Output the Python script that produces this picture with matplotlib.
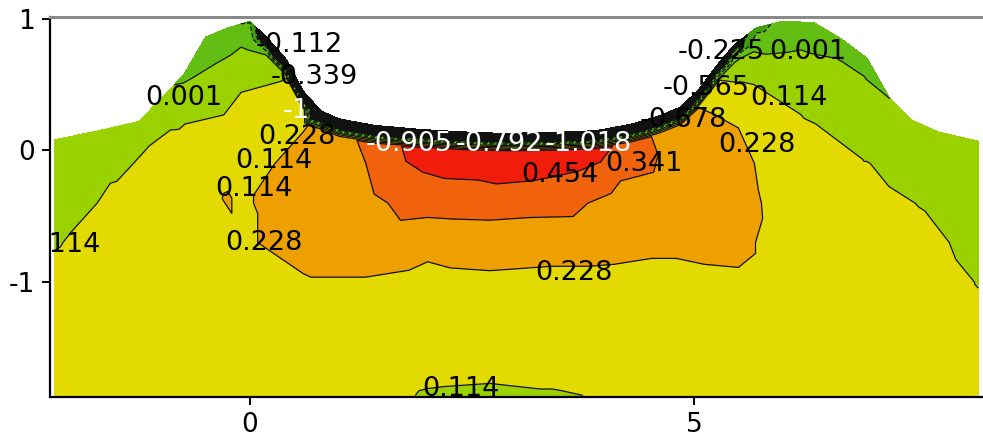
import numpy as np
import matplotlib
matplotlib.use("Agg")
import matplotlib.pyplot as plt
import matplotlib.tri as mtri
from matplotlib.colors import ListedColormap, BoundaryNorm

plt.rcParams['font.family'] = ['DejaVu Sans']
plt.rcParams['axes.unicode_minus'] = False

# ---------------- data ----------------
levels = [-1.131, -1.018, -0.905, -0.792, -0.678, -0.565, -0.452, -0.339,
          -0.225, -0.112, 0.001, 0.114, 0.228, 0.341, 0.454, 0.567]

# ground surface (upper edge of the field)
surf_x = [-2.2, -1.7, -1.25, -0.95, -0.75, -0.5, -0.25, 0.0, 0.2, 0.4, 0.6, 0.8,
          1.0, 1.4, 1.9, 2.4, 2.9, 3.4, 3.9, 4.3, 4.6, 4.85, 5.05, 5.25, 5.45,
          5.7, 6.0, 6.35, 6.65, 6.95, 7.2, 7.45, 7.75, 8.2]
surf_y = [0.08, 0.15, 0.22, 0.43, 0.57, 0.86, 0.93, 0.98, 0.85, 0.70, 0.45, 0.30,
          0.24, 0.19, 0.16, 0.14, 0.13, 0.135, 0.15, 0.20, 0.26, 0.33, 0.46, 0.64,
          0.80, 0.93, 0.98, 0.97, 0.85, 0.70, 0.40, 0.23, 0.14, 0.07]
# value on the surface
surf_val = [0.06, 0.05, 0.045, 0.02, -0.02, -0.08, -0.10, -0.12, -0.5, -0.9, -1.05, -1.1,
            -1.1, -1.1, -1.1, -1.1, -1.1, -1.1, -1.1, -1.1, -1.0, -0.95, -0.8, -0.6,
            -0.35, -0.15, -0.08, -0.06, -0.05, -0.03, 0.0, 0.03, 0.05, 0.06]
# value just under the surface layer
sub_depth = 0.14
sub_val = [0.065, 0.095, 0.105, 0.10, 0.03, -0.04, -0.03, -0.03, 0.005, 0.11, 0.2, 0.25,
           0.30, 0.38, 0.50, 0.52, 0.54, 0.52, 0.50, 0.40, 0.32, 0.28, 0.23, 0.14,
           0.01, -0.02, -0.03, -0.03, -0.005, -0.005, 0.03, 0.07, 0.07, 0.06]

# interior values (rows = grid_y, columns = grid_x); nan = above ground / in surface layer
grid_x = [-2.2, -1.5, -0.8, -0.1, 0.6, 1.3, 2.0, 2.7, 3.4, 4.1, 4.8, 5.5, 6.2, 6.9, 7.6, 8.2]
grid_y = [-1.86, -1.6, -1.3, -1.0, -0.7, -0.4, -0.1, 0.2, 0.5, 0.8]
nan = np.nan
grid_cols = [
    [0.15, 0.15, 0.14, 0.13, 0.11, 0.09, 0.07, nan, nan, nan],            # -2.2
    [0.16, 0.16, 0.16, 0.15, 0.14, 0.125, 0.105, nan, nan, nan],          # -1.5
    [0.17, 0.17, 0.17, 0.17, 0.17, 0.16, 0.14, 0.11, nan, nan],           # -0.8
    [0.16, 0.17, 0.18, 0.20, 0.22, 0.22, 0.19, 0.15, 0.105, -0.005],      # -0.1
    [0.17, 0.18, 0.20, 0.222, 0.25, 0.26, 0.26, 0.22, nan, nan],          # 0.6
    [0.15, 0.17, 0.20, 0.222, 0.27, 0.31, 0.34, nan, nan, nan],           # 1.3
    [0.105, 0.15, 0.19, 0.21, 0.245, 0.396, nan, nan, nan, nan],          # 2.0
    [0.10, 0.14, 0.18, 0.215, 0.26, 0.403, nan, nan, nan, nan],           # 2.7
    [0.108, 0.14, 0.18, 0.21, 0.255, 0.388, nan, nan, nan, nan],          # 3.4
    [0.12, 0.15, 0.18, 0.21, 0.25, 0.307, nan, nan, nan, nan],            # 4.1
    [0.13, 0.15, 0.18, 0.21, 0.24, 0.28, 0.30, nan, nan, nan],            # 4.8
    [0.14, 0.16, 0.18, 0.215, 0.25, 0.265, 0.255, 0.225, 0.125, nan],     # 5.5
    [0.14, 0.15, 0.16, 0.17, 0.17, 0.165, 0.15, 0.125, 0.08, -0.01],      # 6.2
    [0.14, 0.15, 0.155, 0.155, 0.15, 0.135, 0.118, 0.08, 0.015, nan],     # 6.9
    [0.14, 0.145, 0.145, 0.14, 0.13, 0.11, 0.085, nan, nan, nan],         # 7.6
    [0.135, 0.13, 0.125, 0.112, 0.095, 0.075, 0.055, nan, nan, nan],      # 8.2
]

# small isolated patch left of the orange zone
patch_x = [-0.27]
patch_y = [-0.34]
patch_val = [0.233]

# contour labels: text, x, y, colour
labels = [
    ("-0.112", 0.06, 0.80, "k"), ("-0.339", 0.23, 0.56, "k"), ("-1", 0.37, 0.30, "w"),
    ("0.228", 0.09, 0.10, "k"), ("0.114", -0.17, -0.08, "k"), ("0.114", -0.39, -0.29, "k"),
    ("0.001", -1.18, 0.40, "k"), ("0.114", -2.55, -0.72, "k"), ("0.228", -0.28, -0.70, "k"),
    ("-0.905", 1.30, 0.05, "w"), ("-0.792", 2.31, 0.05, "w"), ("-1.018", 3.32, 0.05, "w"),
    ("0.454", 3.06, -0.19, "k"), ("0.341", 4.0, -0.10, "k"), ("-0.678", 4.39, 0.23, "k"),
    ("-0.565", 4.65, 0.47, "k"), ("-0.225", 4.82, 0.75, "k"), ("0.001", 5.85, 0.75, "k"),
    ("0.114", 5.63, 0.40, "k"), ("0.228", 5.27, 0.04, "k"), ("0.228", 3.21, -0.93, "k"),
    ("0.114", 1.94, -1.81, "k"),
]

# ---------------- build triangulation ----------------
gv = np.array(grid_cols).T
gx, gy = np.meshgrid(grid_x, grid_y)
keep = ~np.isnan(gv)
sx = np.array(surf_x); sy = np.array(surf_y)
px = np.concatenate([gx[keep], sx, sx, patch_x])
py = np.concatenate([gy[keep], sy, sy - sub_depth, patch_y])
pv = np.concatenate([gv[keep], np.array(surf_val), np.array(sub_val), patch_val])
tri = mtri.Triangulation(px, py)
cx = px[tri.triangles].mean(axis=1)
cy = py[tri.triangles].mean(axis=1)
tri.set_mask(cy > np.interp(cx, sx, sy) + 1e-9)

fill_colors = ['#111111'] * 8 + ['#3f9e0c', '#62be12', '#9ad200', '#e2da00',
                                   '#eea000', '#f0620c', '#f01c0c']
cmap = ListedColormap(fill_colors)
norm = BoundaryNorm(levels, cmap.N)

# ---------------- figure ----------------
fig = plt.figure(figsize=(9.83, 4.43), dpi=100)
ax = fig.add_axes([50 / 983, 46 / 443, 933 / 983, 380 / 443])
ax.tricontourf(tri, pv, levels=levels, cmap=cmap, norm=norm)
ax.tricontour(tri, pv, levels=levels, colors='#111111', linewidths=0.9)

for txt, lx, ly, col in labels:
    ax.text(lx, ly, txt, fontsize=19.5, color=col, ha='left', va='center',
            clip_on=True, zorder=5)

ax.set_xlim(-2.252, 8.254)
ax.set_ylim(-1.872, 1.012)
ax.set_xticks([0, 5])
ax.set_yticks([-1, 0, 1])
ax.tick_params(axis='both', labelsize=19, length=6, width=1.4, direction='out', pad=5)
for s in ['left', 'bottom']:
    ax.spines[s].set_color('black')
    ax.spines[s].set_linewidth(1.6)
ax.spines['top'].set_color('#8a8a8a')
ax.spines['top'].set_linewidth(2.2)
ax.spines['right'].set_visible(False)

fig.savefig('out.png', dpi=100)
